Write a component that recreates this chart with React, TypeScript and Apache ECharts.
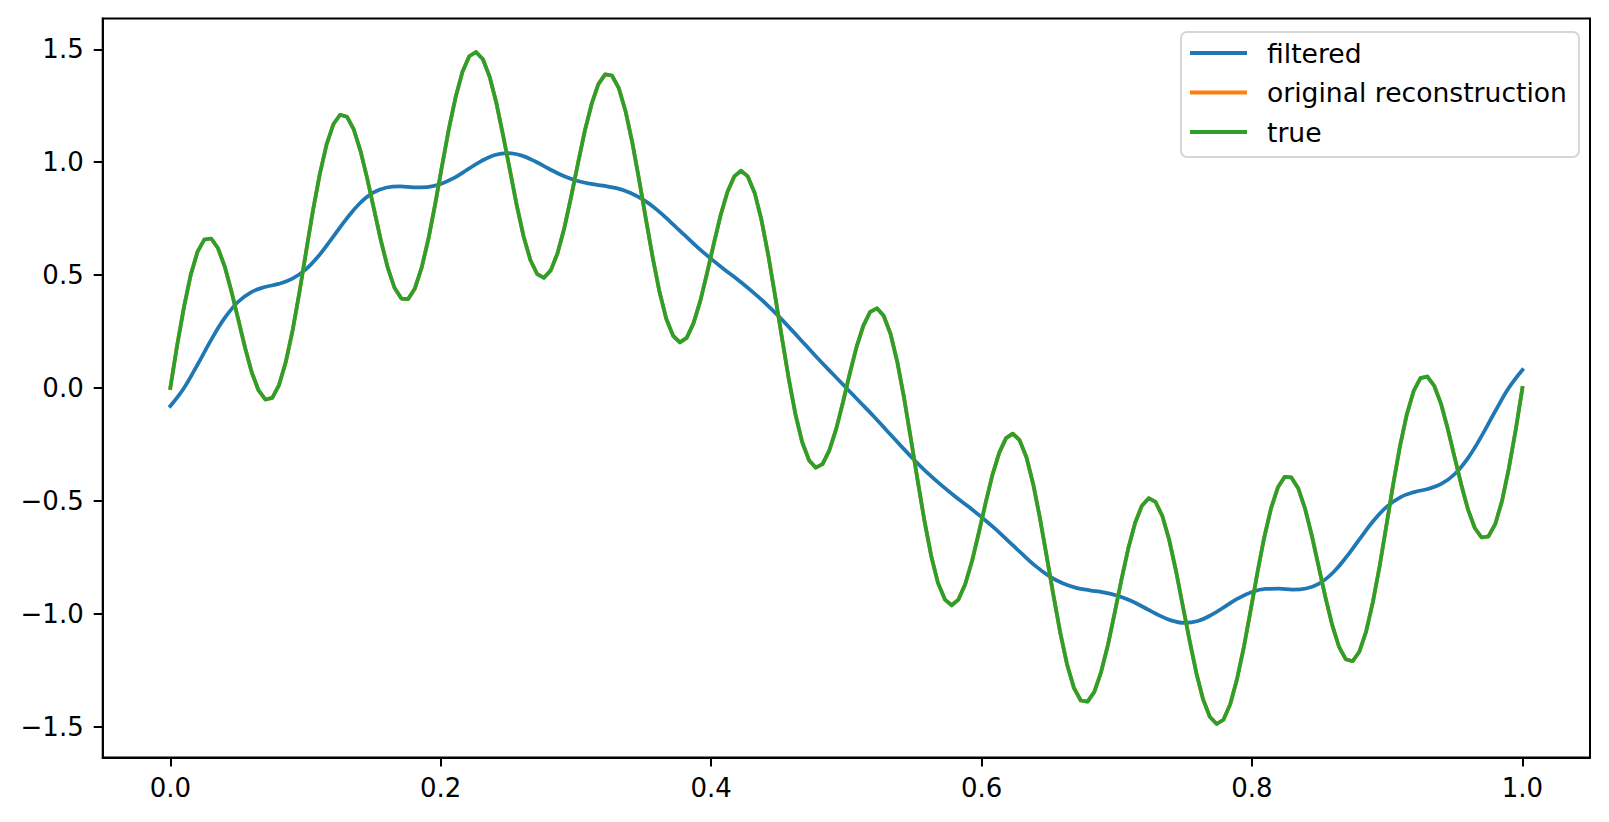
import React, { useEffect, useRef } from "react";
import * as echarts from "echarts";

// x samples of the "true" / "original reconstruction" curves
const xTrue = [
  0, 0.005, 0.0101, 0.0151, 0.0201, 0.0251, 0.0302, 0.0352, 0.0402, 0.0452,
  0.0503, 0.0553, 0.0603, 0.0653, 0.0704, 0.0754, 0.0804, 0.0854, 0.0905, 0.0955,
  0.1005, 0.1055, 0.1106, 0.1156, 0.1206, 0.1256, 0.1307, 0.1357, 0.1407, 0.1457,
  0.1508, 0.1558, 0.1608, 0.1658, 0.1709, 0.1759, 0.1809, 0.1859, 0.191, 0.196,
  0.201, 0.206, 0.2111, 0.2161, 0.2211, 0.2261, 0.2312, 0.2362, 0.2412, 0.2462,
  0.2513, 0.2563, 0.2613, 0.2663, 0.2714, 0.2764, 0.2814, 0.2864, 0.2915, 0.2965,
  0.3015, 0.3065, 0.3116, 0.3166, 0.3216, 0.3266, 0.3317, 0.3367, 0.3417, 0.3467,
  0.3518, 0.3568, 0.3618, 0.3668, 0.3719, 0.3769, 0.3819, 0.3869, 0.392, 0.397,
  0.402, 0.407, 0.4121, 0.4171, 0.4221, 0.4271, 0.4322, 0.4372, 0.4422, 0.4472,
  0.4523, 0.4573, 0.4623, 0.4673, 0.4724, 0.4774, 0.4824, 0.4874, 0.4925, 0.4975,
  0.5025, 0.5075, 0.5126, 0.5176, 0.5226, 0.5276, 0.5327, 0.5377, 0.5427, 0.5477,
  0.5528, 0.5578, 0.5628, 0.5678, 0.5729, 0.5779, 0.5829, 0.5879, 0.593, 0.598,
  0.603, 0.608, 0.6131, 0.6181, 0.6231, 0.6281, 0.6332, 0.6382, 0.6432, 0.6482,
  0.6533, 0.6583, 0.6633, 0.6683, 0.6734, 0.6784, 0.6834, 0.6884, 0.6935, 0.6985,
  0.7035, 0.7085, 0.7136, 0.7186, 0.7236, 0.7286, 0.7337, 0.7387, 0.7437, 0.7487,
  0.7538, 0.7588, 0.7638, 0.7688, 0.7739, 0.7789, 0.7839, 0.7889, 0.794, 0.799,
  0.804, 0.809, 0.8141, 0.8191, 0.8241, 0.8291, 0.8342, 0.8392, 0.8442, 0.8492,
  0.8543, 0.8593, 0.8643, 0.8693, 0.8744, 0.8794, 0.8844, 0.8894, 0.8945, 0.8995,
  0.9045, 0.9095, 0.9146, 0.9196, 0.9246, 0.9296, 0.9347, 0.9397, 0.9447, 0.9497,
  0.9548, 0.9598, 0.9648, 0.9698, 0.9749, 0.9799, 0.9849, 0.9899, 0.995, 1,
];

const trueSignal = [
  0, 0.187, 0.358, 0.501, 0.603, 0.657, 0.662, 0.62, 0.539, 0.428,
  0.303, 0.178, 0.068, -0.011, -0.051, -0.044, 0.013, 0.115, 0.256, 0.424,
  0.606, 0.786, 0.948, 1.079, 1.168, 1.21, 1.201, 1.145, 1.049, 0.926,
  0.788, 0.652, 0.533, 0.444, 0.396, 0.394, 0.441, 0.533, 0.663, 0.818,
  0.985, 1.147, 1.29, 1.401, 1.469, 1.488, 1.456, 1.378, 1.261, 1.117,
  0.961, 0.807, 0.671, 0.567, 0.504, 0.488, 0.521, 0.597, 0.711, 0.848,
  0.995, 1.137, 1.258, 1.346, 1.389, 1.384, 1.328, 1.226, 1.087, 0.923,
  0.747, 0.577, 0.426, 0.307, 0.231, 0.202, 0.222, 0.286, 0.386, 0.509,
  0.64, 0.765, 0.869, 0.937, 0.962, 0.937, 0.864, 0.745, 0.59, 0.412,
  0.225, 0.044, -0.115, -0.239, -0.32, -0.353, -0.337, -0.276, -0.181, -0.063,
  0.063, 0.181, 0.276, 0.337, 0.353, 0.32, 0.239, 0.115, -0.044, -0.225,
  -0.412, -0.59, -0.745, -0.864, -0.937, -0.962, -0.937, -0.869, -0.765, -0.64,
  -0.509, -0.386, -0.286, -0.222, -0.202, -0.231, -0.307, -0.426, -0.577, -0.747,
  -0.923, -1.087, -1.226, -1.328, -1.384, -1.389, -1.346, -1.258, -1.137, -0.995,
  -0.848, -0.711, -0.597, -0.521, -0.488, -0.504, -0.567, -0.671, -0.807, -0.961,
  -1.117, -1.261, -1.378, -1.456, -1.488, -1.469, -1.401, -1.29, -1.147, -0.985,
  -0.818, -0.663, -0.533, -0.441, -0.394, -0.396, -0.444, -0.533, -0.652, -0.788,
  -0.926, -1.049, -1.145, -1.201, -1.21, -1.168, -1.079, -0.948, -0.786, -0.606,
  -0.424, -0.256, -0.115, -0.013, 0.044, 0.051, 0.011, -0.068, -0.178, -0.303,
  -0.428, -0.539, -0.62, -0.662, -0.657, -0.603, -0.501, -0.358, -0.187, 0,
];

// the reconstruction lies exactly under the true curve in the picture
const reconstruction = trueSignal.slice();

const xFiltered = [
  0, 0.01, 0.02, 0.03, 0.04, 0.05, 0.06, 0.07, 0.08, 0.09,
  0.1, 0.11, 0.12, 0.13, 0.14, 0.15, 0.16, 0.17, 0.18, 0.19,
  0.2, 0.21, 0.22, 0.23, 0.24, 0.25, 0.26, 0.27, 0.28, 0.29,
  0.3, 0.31, 0.32, 0.33, 0.34, 0.35, 0.36, 0.37, 0.38, 0.39,
  0.4, 0.41, 0.42, 0.43, 0.44, 0.45, 0.46, 0.47, 0.48, 0.49,
  0.5, 0.51, 0.52, 0.53, 0.54, 0.55, 0.56, 0.57, 0.58, 0.59,
  0.6, 0.61, 0.62, 0.63, 0.64, 0.65, 0.66, 0.67, 0.68, 0.69,
  0.7, 0.71, 0.72, 0.73, 0.74, 0.75, 0.76, 0.77, 0.78, 0.79,
  0.8, 0.81, 0.82, 0.83, 0.84, 0.85, 0.86, 0.87, 0.88, 0.89,
  0.9, 0.91, 0.92, 0.93, 0.94, 0.95, 0.96, 0.97, 0.98, 0.99,
  1,
];

const filtered = [
  -0.08, -0.001, 0.102, 0.211, 0.308, 0.381, 0.425, 0.447, 0.461, 0.483,
  0.524, 0.587, 0.666, 0.747, 0.817, 0.865, 0.888, 0.893, 0.889, 0.89,
  0.903, 0.931, 0.968, 1.005, 1.032, 1.04, 1.029, 1.003, 0.971, 0.941,
  0.919, 0.905, 0.896, 0.885, 0.865, 0.833, 0.789, 0.735, 0.679, 0.623,
  0.572, 0.524, 0.478, 0.429, 0.376, 0.317, 0.254, 0.189, 0.124, 0.062,
  0, -0.062, -0.124, -0.189, -0.254, -0.317, -0.376, -0.429, -0.478, -0.524,
  -0.572, -0.623, -0.679, -0.735, -0.789, -0.833, -0.865, -0.885, -0.896, -0.905,
  -0.919, -0.941, -0.971, -1.003, -1.029, -1.04, -1.032, -1.005, -0.968, -0.931,
  -0.903, -0.89, -0.889, -0.893, -0.888, -0.865, -0.817, -0.747, -0.666, -0.587,
  -0.524, -0.483, -0.461, -0.447, -0.425, -0.381, -0.308, -0.211, -0.102, 0.001,
  0.08,
];

const xTicks = [0, 0.2, 0.4, 0.6, 0.8, 1.0];
const yTicks = [-1.5, -1.0, -0.5, 0, 0.5, 1.0, 1.5];
const seriesNames = ["filtered", "original reconstruction", "true"];
const seriesColors = ["#1f77b4", "#ff7f0e", "#2ca02c"];
const seriesSmooth = [0.4, false, false];

const FONT = "DejaVu Sans";

const fmt = (v: number) => {
  const s = Math.abs(v).toFixed(1);
  return v < -1e-9 ? "\u2212" + s : s;
};

const pairs = (xs: number[], ys: number[]) => xs.map((x, i) => [x, ys[i]]);

export default function App() {
  const ref = useRef<HTMLDivElement>(null);

  useEffect(() => {
    if (!ref.current) return;
    const chart = echarts.init(ref.current, null, { renderer: "svg" });
    const lineBase = {
      type: "line" as const,
      showSymbol: false,
      symbol: "none",
      animation: false,
      silent: true,
      emphasis: { disabled: true },
    };
    const seriesData = [
      pairs(xFiltered, filtered),
      pairs(xTrue, reconstruction),
      pairs(xTrue, trueSignal),
    ];
    chart.setOption({
      animation: false,
      backgroundColor: "#ffffff",
      textStyle: { fontFamily: FONT },
      grid: {
        left: 102.7,
        right: 19,
        top: 18.4,
        bottom: 64.4,
        show: true,
        borderColor: "#000",
        borderWidth: 2,
        backgroundColor: "transparent",
      },
      legend: {
        orient: "vertical",
        left: 1181,
        top: 32,
        data: seriesNames.map((n) => ({ name: n, icon: "rect" })),
        itemWidth: 57,
        itemHeight: 4,
        itemGap: 9.5,
        padding: [6, 12, 10, 9],
        backgroundColor: "rgba(255,255,255,0.8)",
        borderColor: "#d6d6d6",
        borderWidth: 2,
        borderRadius: 6,
        selectedMode: false,
        textStyle: {
          fontFamily: FONT,
          fontSize: 26.6,
          color: "#000",
          lineHeight: 30,
          padding: [0, 0, 0, 15],
        },
      },
      xAxis: {
        type: "value",
        min: -0.05,
        max: 1.05,
        axisLine: { show: true, onZero: false, lineStyle: { color: "#000", width: 2 } },
        axisTick: {
          show: true,
          length: 9,
          lineStyle: { color: "#000", width: 2 },
          customValues: xTicks,
        },
        axisLabel: {
          show: true,
          customValues: xTicks,
          formatter: (v: number) => fmt(v),
          color: "#000",
          fontSize: 26,
          fontFamily: FONT,
          margin: 17,
        },
        splitLine: { show: false },
      },
      yAxis: {
        type: "value",
        min: -1.6368,
        max: 1.6368,
        axisLine: { show: true, onZero: false, lineStyle: { color: "#000", width: 2 } },
        axisTick: {
          show: true,
          length: 9,
          lineStyle: { color: "#000", width: 2 },
          customValues: yTicks,
        },
        axisLabel: {
          show: true,
          customValues: yTicks,
          formatter: (v: number) => fmt(v),
          color: "#000",
          fontSize: 26,
          fontFamily: FONT,
          margin: 19,
        },
        splitLine: { show: false },
      },
      series: seriesNames.map((name, i) => ({
        ...lineBase,
        name,
        data: seriesData[i],
        smooth: seriesSmooth[i],
        color: seriesColors[i],
        lineStyle: { color: seriesColors[i], width: 3.75, cap: "square", join: "round" },
        z: 2 + i,
      })),
    });
    return () => chart.dispose();
  }, []);

  return (
    <div
      ref={ref}
      style={{ position: "fixed", left: 0, top: 0, width: 1609, height: 822, background: "#fff" }}
    />
  );
}
